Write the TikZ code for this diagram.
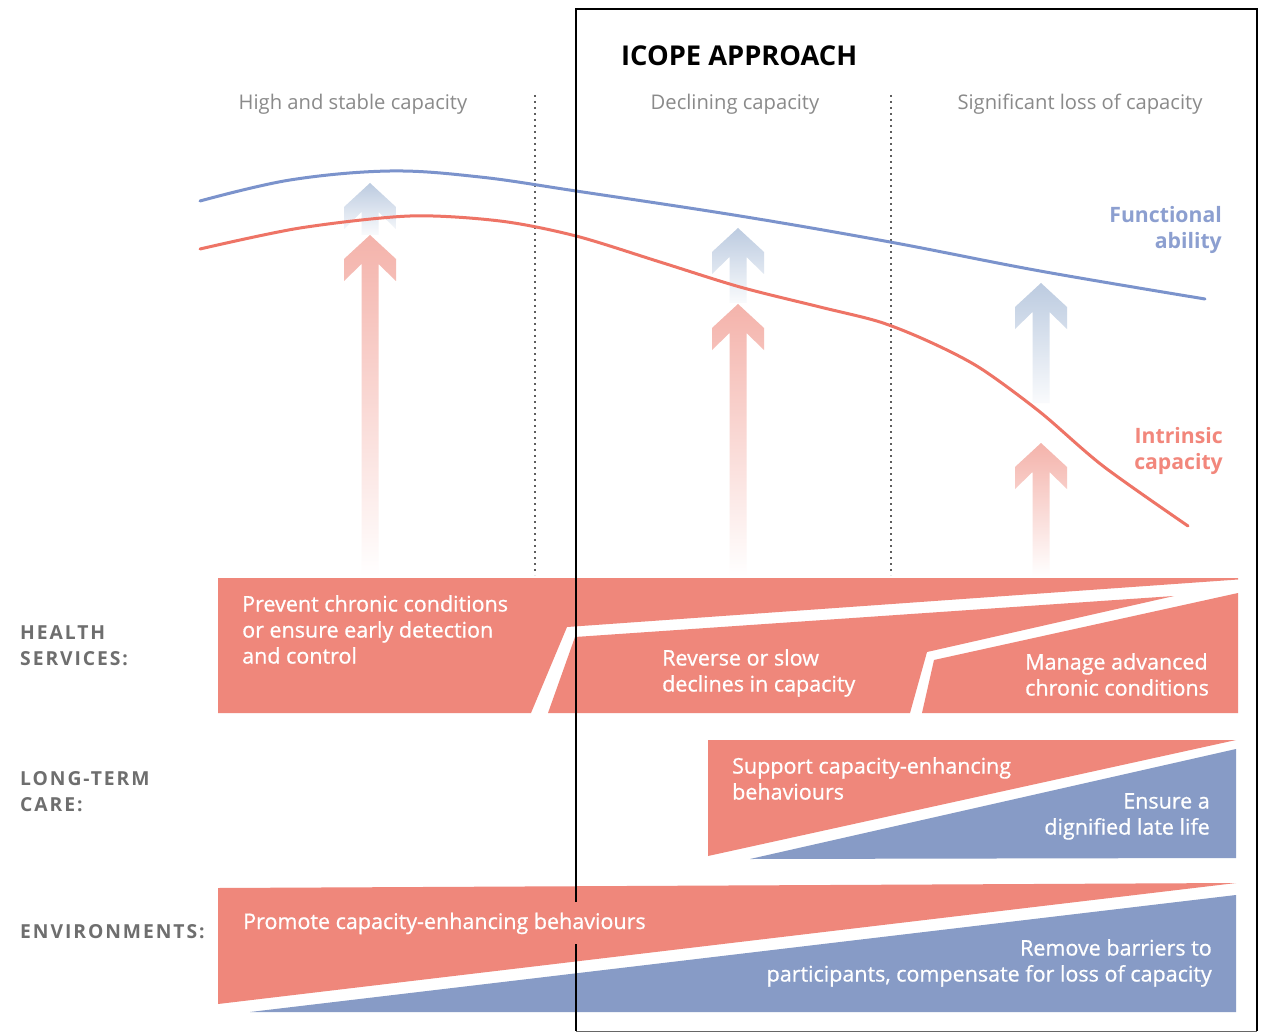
\documentclass[tikz,border=0pt]{standalone}
\usepackage{fontspec}
\setmainfont{Open Sans}
\newfontfamily\lblfont[LetterSpace=10]{Open Sans}
\newfontfamily\semifont[FakeBold=0.8]{Open Sans}
\definecolor{bandred}{HTML}{EF877B}
\definecolor{bandblue}{HTML}{879BC6}
\definecolor{curveblue}{HTML}{7B93CC}
\definecolor{curvered}{HTML}{EE7466}
\definecolor{arrred}{HTML}{F4B3AB}
\definecolor{arrblue}{HTML}{BCCBE0}
\definecolor{hdgray}{HTML}{8A8A8A}
\definecolor{dotgray}{HTML}{5E5E5E}
\definecolor{lblgray}{HTML}{6E6E6E}
\definecolor{fnblue}{HTML}{8C9FD0}
\definecolor{inred}{HTML}{F2877C}
\newcommand\redarrow[3]{%
  \shade[top color=arrred, middle color=arrred!85!white, bottom color=white]
    (#1,#2) -- ({#1-26},{#2+24}) -- ({#1-26},{#2+46}) -- ({#1-8.5},{#2+29})
    -- ({#1-8.5},#3) -- ({#1+8.5},#3) -- ({#1+8.5},{#2+29}) -- ({#1+26},{#2+46})
    -- ({#1+26},{#2+24}) -- cycle;}
\newcommand\bluearrow[3]{%
  \shade[top color=arrblue, bottom color=arrblue!8!white]
    (#1,#2) -- ({#1-26},{#2+24}) -- ({#1-26},{#2+46}) -- ({#1-8.5},{#2+29})
    -- ({#1-8.5},#3) -- ({#1+8.5},#3) -- ({#1+8.5},{#2+29}) -- ({#1+26},{#2+46})
    -- ({#1+26},{#2+24}) -- cycle;}
\begin{document}
\begin{tikzpicture}[x=1pt,y=-1pt,
  hdtext/.style={font=\fontsize{20.2}{24}\selectfont, text=hdgray, inner sep=0pt, anchor=base},
  bandtext/.style={font=\fontsize{21.5}{26}\selectfont\semifont, text=white, inner sep=0pt, align=left},
  bandtextr/.style={font=\fontsize{21.5}{26}\selectfont\semifont, text=white, inner sep=0pt, align=right, anchor=north east},
  rowlabel/.style={font=\fontsize{19.3}{26}\selectfont\lblfont\bfseries, text=lblgray, inner sep=0pt, align=left},
  curvelabel/.style={font=\fontsize{21.2}{26}\selectfont\bfseries, inner sep=0pt, align=right, anchor=north east},
  divider/.style={dotgray, line width=2.4pt, dash pattern=on 2.4pt off 3.6pt},
  frameline/.style={black, line width=2pt}]
\useasboundingbox (0,0) rectangle (1266,1032);
\fill[white] (0,0) rectangle (1266,1032);

% dividers
\coordinate (d1t) at (535,95); \coordinate (d1b) at (535,575);
\coordinate (d2t) at (891,95); \coordinate (d2b) at (891,575);
\draw[divider] (d1t) -- (d1b);
\draw[divider] (d2t) -- (d2b);

% headers
\node[hdtext] (h1) at (353,110) {High and stable capacity};
\node[hdtext] (h2) at (735,110) {Declining capacity};
\node[hdtext] (h3) at (1080,110) {Significant loss of capacity};
\node[font=\fontsize{27.3}{30}\selectfont\bfseries, inner sep=0pt, anchor=base west] (title) at (621,66) {ICOPE APPROACH};

% arrows
\bluearrow{370}{183}{235}
\redarrow{370}{235}{576}
\bluearrow{738}{228}{303}
\redarrow{738}{304}{576}
\bluearrow{1041}{283}{403}
\redarrow{1041}{443}{576}

% curves
\draw[curveblue, line width=3pt, line cap=round] plot[smooth, tension=0.6] coordinates
  {(200,201) (290,180) (390,171) (480,177) (576,191) (740,216) (890,242) (1040,271) (1205,299)};
\draw[curvered, line width=3pt, line cap=round] plot[smooth, tension=0.5] coordinates
  {(200,249) (300,228) (410,216) (500,221) (576,236) (660,262) (740,287) (820,307) (880,322) (930,342) (980,368) (1040,412) (1103,466) (1188,526)};
\node[curvelabel, text=fnblue] (fa) at (1222,206) {Functional\\ability};
\node[curvelabel, text=inred] (ic) at (1223,427) {Intrinsic\\capacity};

% health services band
\fill[bandred] (218,578) -- (1238,578) -- (1238,579.5) -- (567,627) -- (531,713) -- (218,713) -- cycle;
\fill[bandred] (548,713) -- (575,637) -- (1174,596) -- (927,652) -- (910,713) -- cycle;
\fill[bandred] (922,713) -- (934,660) -- (1238,593) -- (1238,713) -- cycle;

% long-term care band
\fill[bandred] (708,740) -- (1236,740) -- (708,856) -- cycle;
\fill[bandblue] (750,859) -- (1236,749) -- (1236,858) -- cycle;

% environments band
\fill[bandred] (218,888) -- (1236,883) -- (218,1004) -- cycle;
\fill[bandblue] (250,1012) -- (1236,895) -- (1236,1012) -- cycle;

% frame
\coordinate (ftl) at (576,9);
\coordinate (ftr) at (1257,9);
\coordinate (fbr) at (1257,1031);
\coordinate (fbl) at (576,1031);
\coordinate (gapt) at (576,902);
\coordinate (gapb) at (576,944);
\draw[frameline] (gapt) -- (ftl) -- (ftr) -- (fbr);
\draw[black!60, line width=0.8pt] (fbr) -- (fbl);
\draw[frameline] (gapb) -- (fbl);

% band texts
\node[bandtext, anchor=north west] (t1) at (242,595) {Prevent chronic conditions\\or ensure early detection\\and control};
\node[bandtext, anchor=north west] (t2) at (662,649) {Reverse or slow\\declines in capacity};
\node[bandtext, anchor=north west] (t3) at (1025,653) {Manage advanced\\chronic conditions};
\node[bandtext, anchor=north west] (t4) at (732,757) {Support capacity-enhancing\\behaviours};
\node[bandtextr] (t5) at (1210,793) {Ensure a\\dignified late life};
\node[bandtext, anchor=base west] (t6) at (243,929) {Promote capacity-enhancing behaviours};
\node[bandtextr] (t7) at (1212,939) {Remove barriers to\\participants, compensate for loss of capacity};

% row labels
\node[rowlabel, anchor=north west] (r1) at (20,625) {HEALTH\\SERVICES:};
\node[rowlabel, anchor=north west] (r2) at (20,771) {LONG-TERM\\CARE:};
\node[rowlabel, anchor=base west] (r3) at (20,938) {ENVIRONMENTS:};
\end{tikzpicture}
\end{document}
